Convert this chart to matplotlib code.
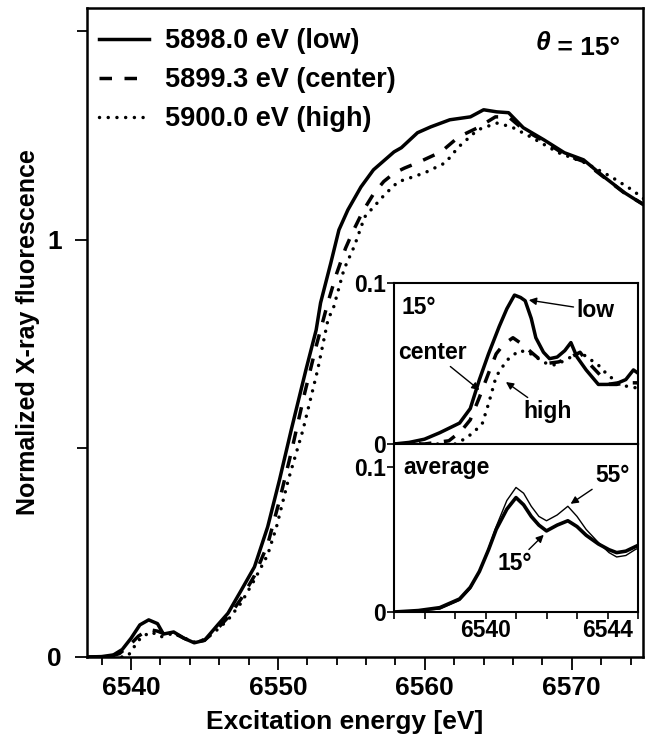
import matplotlib
matplotlib.use("Agg")
from matplotlib import pyplot as plt
from matplotlib.ticker import MultipleLocator, FixedLocator

plt.rcParams['font.family'] = ['Liberation Sans', 'DejaVu Sans']
plt.rcParams['font.weight'] = 'bold'

# main spectra, 15 deg, three excitation energies
e_low = [6537.0, 6538.0, 6538.8, 6539.4, 6540.0, 6540.6, 6541.2, 6541.8, 6542.2, 6542.9,
         6543.6, 6544.3, 6545.0, 6545.9, 6546.6, 6547.5, 6548.4, 6549.3, 6550.1, 6550.9,
         6551.9, 6552.6, 6552.9, 6553.6, 6554.15, 6554.76, 6555.65, 6556.5, 6557.9, 6558.4,
         6559.5, 6560.4, 6561.7, 6563.1, 6564.0, 6564.9, 6565.7, 6566.7, 6568.1, 6569.5,
         6570.8, 6572.2, 6573.6, 6574.9]
y_low = [0.000, 0.001, 0.005, 0.018, 0.045, 0.077, 0.089, 0.080, 0.055, 0.060,
         0.045, 0.034, 0.040, 0.077, 0.105, 0.160, 0.216, 0.312, 0.424, 0.544,
         0.688, 0.784, 0.849, 0.945, 1.024, 1.072, 1.127, 1.168, 1.211, 1.221,
         1.257, 1.271, 1.288, 1.295, 1.312, 1.307, 1.305, 1.269, 1.240, 1.209,
         1.192, 1.151, 1.113, 1.084]

e_center = [6537.0, 6538.5, 6539.2, 6539.8, 6540.5, 6541.2, 6541.8, 6542.3, 6542.9, 6543.6,
            6544.3, 6545.0, 6545.8, 6546.6, 6547.5, 6548.4, 6549.3, 6550.1, 6550.9, 6551.8,
            6552.6, 6553.4, 6554.0, 6554.6, 6555.1, 6555.8, 6556.5, 6557.2, 6557.9, 6558.6,
            6559.5, 6560.3, 6561.1, 6562.3, 6563.6, 6564.8, 6565.7, 6566.7, 6568.1, 6569.5,
            6570.8, 6572.2, 6573.6, 6574.9]
y_center = [0.000, 0.001, 0.008, 0.025, 0.050, 0.066, 0.062, 0.055, 0.058, 0.045,
            0.035, 0.040, 0.065, 0.095, 0.140, 0.195, 0.270, 0.375, 0.490, 0.630,
            0.745, 0.850, 0.920, 0.980, 1.020, 1.070, 1.110, 1.140, 1.160, 1.172,
            1.185, 1.198, 1.211, 1.247, 1.269, 1.295, 1.295, 1.265, 1.237, 1.205,
            1.188, 1.150, 1.112, 1.085]

e_high = [6537.0, 6539.5, 6539.8, 6540.2, 6540.7, 6541.4, 6542.0, 6542.9, 6543.6, 6544.3,
          6545.0, 6545.6, 6546.6, 6547.5, 6548.4, 6549.3, 6549.9, 6550.7, 6551.7, 6552.7,
          6553.4, 6553.8, 6554.5, 6555.2, 6555.9, 6557.3, 6558.2, 6558.6, 6560.0, 6561.4,
          6562.3, 6563.6, 6564.9, 6565.9, 6567.2, 6569.1, 6570.9, 6572.7, 6574.1, 6575.0]
y_high = [0.000, 0.000, 0.003, 0.024, 0.048, 0.060, 0.048, 0.057, 0.045, 0.036,
          0.042, 0.057, 0.089, 0.130, 0.185, 0.245, 0.312, 0.424, 0.544, 0.688,
          0.808, 0.840, 0.930, 0.985, 1.055, 1.110, 1.140, 1.144, 1.161, 1.185,
          1.223, 1.264, 1.280, 1.271, 1.247, 1.209, 1.185, 1.151, 1.120, 1.096]

legend_labels = ['5898.0 eV (low)', '5899.3 eV (center)', '5900.0 eV (high)']

# inset, upper: pre-edge at 15 deg
pe_low = [6537.0, 6537.5, 6538.0, 6538.5, 6539.15, 6539.5, 6539.8, 6540.1, 6540.45, 6540.7,
          6540.95, 6541.15, 6541.3, 6541.5, 6541.65, 6541.9, 6542.1, 6542.35, 6542.6, 6542.8,
          6543.0, 6543.3, 6543.7, 6544.0, 6544.35, 6544.6, 6544.85, 6545.0]
pv_low = [0.000, 0.001, 0.003, 0.007, 0.013, 0.022, 0.040, 0.056, 0.073, 0.084,
          0.0925, 0.091, 0.089, 0.078, 0.066, 0.057, 0.053, 0.054, 0.058, 0.063,
          0.054, 0.046, 0.037, 0.037, 0.038, 0.040, 0.046, 0.044]

pe_center = [6537.0, 6538.0, 6538.8, 6539.2, 6539.5, 6539.8, 6540.1, 6540.35, 6540.6, 6540.9,
             6541.2, 6541.5, 6541.75, 6542.0, 6542.4, 6542.8, 6543.1, 6543.3, 6543.5, 6543.8,
             6544.05, 6544.3, 6544.6, 6545.0]
pv_center = [0.000, 0.000, 0.002, 0.008, 0.015, 0.029, 0.044, 0.056, 0.062, 0.066,
             0.062, 0.057, 0.053, 0.050, 0.051, 0.054, 0.057, 0.052, 0.048, 0.042,
             0.037, 0.037, 0.038, 0.038]

pe_high = [6537.0, 6539.0, 6539.3, 6539.6, 6539.9, 6540.1, 6540.35, 6540.7, 6541.1, 6541.4,
           6541.65, 6542.0, 6542.3, 6542.7, 6543.1, 6543.4, 6543.7, 6544.0, 6544.35, 6544.6,
           6544.85, 6545.0]
pv_high = [0.000, 0.000, 0.003, 0.007, 0.013, 0.025, 0.042, 0.052, 0.058, 0.057,
           0.054, 0.050, 0.049, 0.053, 0.057, 0.053, 0.049, 0.043, 0.038, 0.036,
           0.035, 0.035]

# inset, lower: averaged pre-edge at 15 and 55 deg
av_e = [6537.0, 6537.8, 6538.5, 6539.15, 6539.5, 6539.8, 6540.1, 6540.35, 6540.7, 6541.0,
        6541.25, 6541.5, 6541.75, 6542.0, 6542.35, 6542.7, 6543.0, 6543.3, 6543.7, 6544.05,
        6544.3, 6544.6, 6544.9, 6545.0]
av_15 = [0.000, 0.001, 0.003, 0.009, 0.017, 0.028, 0.043, 0.057, 0.071, 0.079,
         0.074, 0.066, 0.060, 0.056, 0.060, 0.063, 0.059, 0.053, 0.047, 0.043,
         0.041, 0.042, 0.045, 0.046]
av_55 = [0.000, 0.001, 0.002, 0.008, 0.016, 0.028, 0.044, 0.059, 0.077, 0.086,
         0.082, 0.073, 0.066, 0.063, 0.067, 0.073, 0.066, 0.057, 0.048, 0.041,
         0.038, 0.039, 0.043, 0.044]

W, H = 646, 747
fig = plt.figure(figsize=(W / 100, H / 100), dpi=100)

def box(l, t, r, b):
    return [l / W, 1 - b / H, (r - l) / W, (b - t) / H]

lw = 2.5
dash = (3.6, 3.6)
dot = (0.01, 2.5)

ax = fig.add_axes(box(87, 8, 643, 657))
ax.plot(e_low, y_low, 'k-', lw=lw, label=legend_labels[0])
ax.plot(e_center, y_center, 'k', lw=lw, dashes=dash, label=legend_labels[1])
ax.plot(e_high, y_high, 'k', lw=lw, dashes=dot, dash_capstyle='round',
        label=legend_labels[2])
ax.set_xlim(6537.0, 6574.85)
ax.set_ylim(0, 1.556)
ax.xaxis.set_major_locator(MultipleLocator(10))
ax.xaxis.set_minor_locator(MultipleLocator(2))
ax.yaxis.set_major_locator(FixedLocator([0, 1]))
ax.yaxis.set_minor_locator(FixedLocator([0.5, 1.5]))
ax.tick_params(which='both', direction='out', width=1.3, labelsize=19, top=False, right=False)
ax.tick_params(axis='x', which='major', length=9, pad=5)
ax.tick_params(axis='x', which='minor', length=6)
ax.tick_params(axis='y', which='major', length=9, pad=9)
ax.tick_params(axis='y', which='minor', length=7)
for s in ax.spines.values():
    s.set_linewidth(1.8)
ax.set_xlabel('Excitation energy [eV]', fontsize=19, fontweight='bold')
ax.set_ylabel('Normalized X-ray fluorescence', fontsize=18, fontweight='bold')
ax.xaxis.set_label_coords(0.464, -0.082)
ax.yaxis.set_label_coords(-0.085, 0.5)

ax.legend(loc='upper left', bbox_to_anchor=(0.022, 0.969), frameon=False,
          fontsize=19.5, handlelength=1.85, handletextpad=0.57, labelspacing=0.48,
          borderpad=0, borderaxespad=0)

th = ax.text(0.806, 0.936, '\u03b8', transform=ax.transAxes, fontsize=19,
             fontweight='bold', style='italic', ha='left', va='baseline')
ax.annotate(' = 15\u00b0', xy=(1, 0), xycoords=th, fontsize=19, fontweight='bold',
            ha='left', va='baseline')

# inset panels
ia = fig.add_axes(box(394, 283, 638, 444))
ib = fig.add_axes(box(394, 444, 638, 612))
ia.plot(pe_low, pv_low, 'k-', lw=lw)
ia.plot(pe_center, pv_center, 'k', lw=lw, dashes=dash)
ia.plot(pe_high, pv_high, 'k', lw=lw, dashes=dot, dash_capstyle='round')
ib.plot(av_e, av_55, 'k-', lw=1.0)
ib.plot(av_e, av_15, 'k-', lw=2.6)

ia.set_ylim(0, 0.1)
ib.set_ylim(0, 0.116)
for a in (ia, ib):
    a.set_xlim(6537.0, 6545.0)
    a.xaxis.set_major_locator(MultipleLocator(4))
    a.xaxis.set_minor_locator(MultipleLocator(1))
    a.set_yticks([0, 0.1])
    a.set_yticklabels(['0', '0.1'])
    a.tick_params(which='both', direction='out', length=5, width=1.2, labelsize=16.5,
                  top=False, right=False, pad=1)
    for s in a.spines.values():
        s.set_linewidth(1.5)
ia.tick_params(axis='x', labelbottom=False)
ib.tick_params(axis='x', pad=0)

arrow = dict(arrowstyle='-|>', lw=1, color='k', mutation_scale=11, shrinkA=0, shrinkB=0)
fs = 16.5
ia.text(6537.25, 0.085, '15\u00b0', fontsize=fs, ha='left', va='center')
ia.annotate('low', xy=(6541.42, 0.0894), xytext=(6543.6, 0.083), fontsize=fs,
            ha='center', va='center', arrowprops=arrow)
ia.annotate('center', xy=(6539.8, 0.0335), xytext=(6538.27, 0.057), fontsize=fs,
            ha='center', va='center', arrowprops=arrow)
ia.annotate('high', xy=(6540.67, 0.0385), xytext=(6542.04, 0.020), fontsize=fs,
            ha='center', va='center', arrowprops=arrow)
ib.text(6537.3, 0.100, 'average', fontsize=fs, ha='left', va='center')
ib.annotate('55\u00b0', xy=(6542.79, 0.0747), xytext=(6544.15, 0.094), fontsize=fs,
            ha='center', va='center', arrowprops=arrow)
ib.annotate('15\u00b0', xy=(6541.91, 0.0533), xytext=(6540.95, 0.0333), fontsize=fs,
            ha='center', va='center', arrowprops=arrow)

fig.savefig('out.png', dpi=100)
